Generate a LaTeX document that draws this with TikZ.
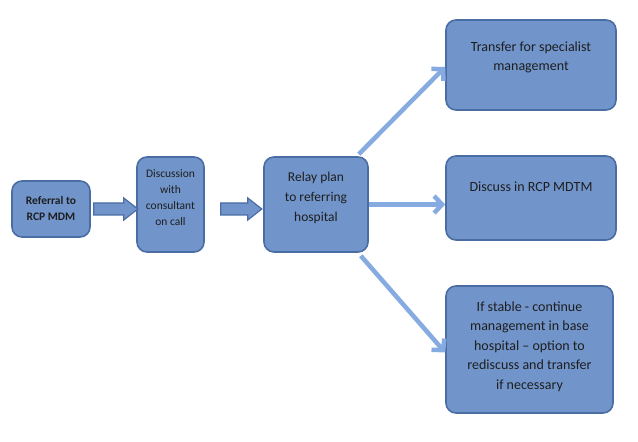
\documentclass[tikz,border=0pt]{standalone}
\usepackage{fontspec}
\setmainfont{Carlito}
\usetikzlibrary{arrows.meta,calc}
\definecolor{boxfill}{HTML}{7195CB}
\definecolor{boxline}{HTML}{4A6DA3}
\definecolor{arrline}{HTML}{86ABE0}
\definecolor{txt}{HTML}{1E1E1E}
\tikzset{
  box/.style={draw=boxline, line width=1.6pt, fill=boxfill, rounded corners=10pt, inner sep=0pt},
  boxtext/.style={text=txt, align=center, inner sep=0pt},
  barrow/.style={draw=boxline, line width=1.2pt, fill=boxfill, line join=miter},
  larrow/.style={draw=arrline, line width=4.5pt, -{Straight Barb[length=8pt,width=17pt,line width=4.5pt]}}
}
\begin{document}
\begin{tikzpicture}[x=1pt,y=1pt]
\useasboundingbox (0,0) rectangle (638,442);
\fill[white] (0,0) rectangle (638,442);
% boxes
\node[box, minimum width=78pt, minimum height=56pt] (b1) at (51,233) {};
\node[box, minimum width=67pt, minimum height=95pt] (b2) at (170.5,237.5) {};
\node[box, minimum width=104pt, minimum height=95pt] (b3) at (316,237.5) {};
\node[box, minimum width=170pt, minimum height=90pt] (b4) at (531,377) {};
\node[box, minimum width=170pt, minimum height=84pt] (b5) at (531,244) {};
\node[box, minimum width=167pt, minimum height=127pt] (b6) at (529.5,92.5) {};
% texts
\node[boxtext, font=\fontsize{11.5}{16}\selectfont\bfseries] (t1) at (b1.center) {Referral to\\RCP MDM};
\node[boxtext, font=\fontsize{11.5}{16}\selectfont] (t2) at ($(b2.center)+(0,7)$) {Discussion\\with\\consultant\\on call};
\node[boxtext, font=\fontsize{13.5}{20}\selectfont] (t3) at ($(b3.center)+(0,7)$) {Relay plan\\to referring\\hospital};
\node[boxtext, font=\fontsize{14}{19}\selectfont] (t4) at ($(b4.center)+(0,7.5)$) {Transfer for specialist\\management};
\node[boxtext, font=\fontsize{14}{19}\selectfont] (t5) at ($(b5.center)+(0,11)$) {Discuss in RCP MDTM};
\node[boxtext, font=\fontsize{14}{19.5}\selectfont] (t6) at ($(b6.center)+(0,3)$) {If stable - continue\\management in base\\hospital -- option to\\rediscuss and transfer\\if necessary};
% block arrows
\draw[barrow] ($(b1.east)+(3,6)$) -- ++(30,0) -- ++(0,5) -- ++(14,-11) -- ++(-14,-11) -- ++(0,5) -- ++(-30,0) -- cycle;
\draw[barrow] ($(b2.east)+(16,1.5)$) -- ++(27,0) -- ++(0,5) -- ++(14,-11) -- ++(-14,-11) -- ++(0,5) -- ++(-27,0) -- cycle;
% line arrows
\coordinate (s4) at ($(b3.north east)+(-10,2)$);
\coordinate (s6) at ($(b3.south east)+(-8,-3)$);
\draw[larrow] (s4) -- ($(b4.west)+(0,-2)$);
\draw[larrow] (b3.east) -- (b3.east -| b5.west);
\draw[larrow] (s6) -- ($(b6.west)+(0,-3)$);
\end{tikzpicture}
\end{document}
